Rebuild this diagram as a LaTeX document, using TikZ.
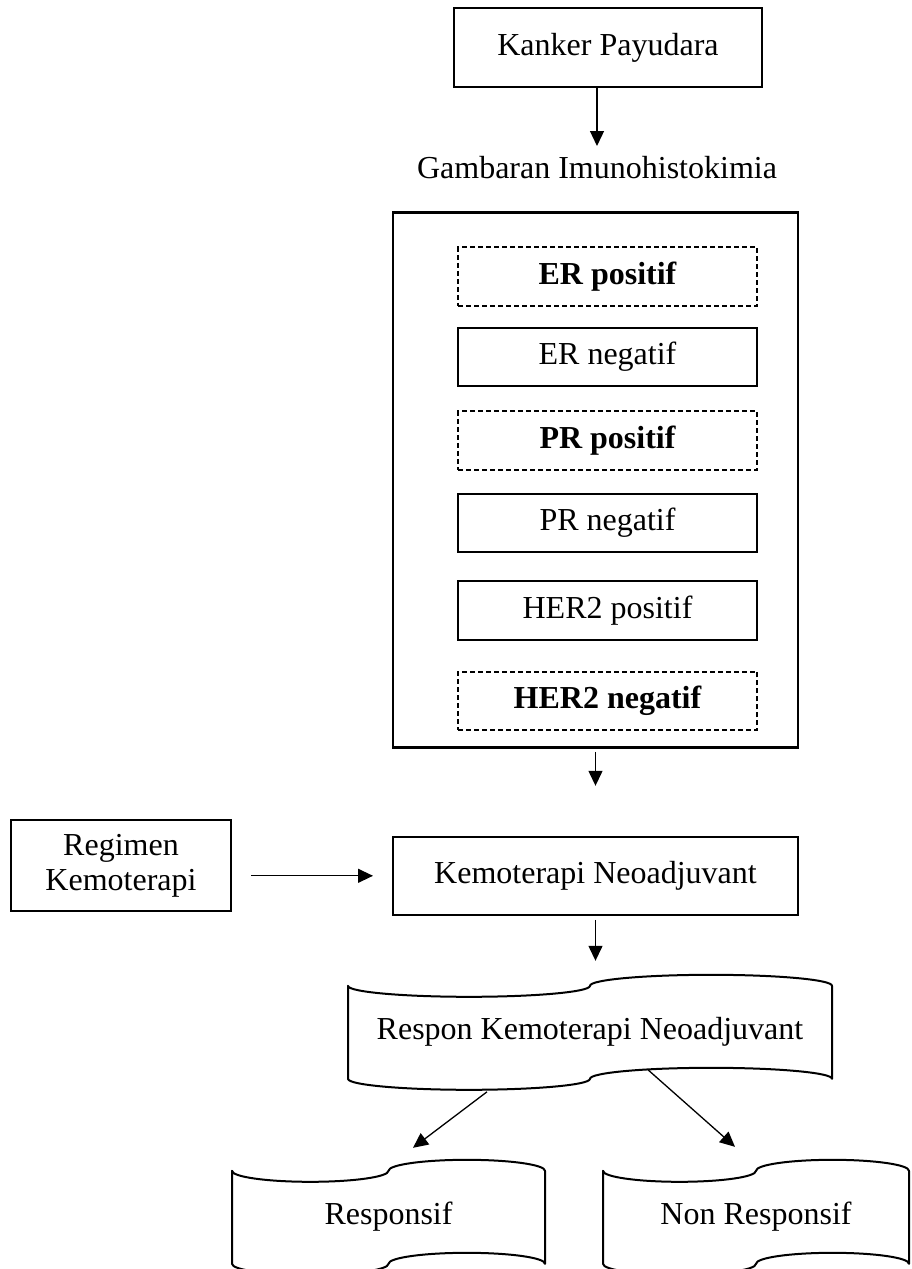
\documentclass[tikz,border=0pt]{standalone}
\usepackage{fontspec}
\setmainfont{Liberation Serif}
\usepackage{tikz}
\usetikzlibrary{arrows.meta, positioning}

\newcommand{\flowfont}{\fontsize{32}{31}\selectfont}

\tikzstyle{frame} = [rectangle, draw=black, line width=2pt, inner sep=0pt, text centered]
\tikzstyle{box} = [frame, text height=22pt, text depth=7pt]
\tikzstyle{marker} = [box, minimum width=299pt, minimum height=58.5pt]
\tikzstyle{marked} = [marker, dash pattern=on 5pt off 3pt, font=\flowfont\bfseries]
\tikzstyle{arrow} = [line width=1.3pt, -{Triangle[length=15pt, width=14pt]}]
\tikzset{tapebox/.style={rectangle, minimum width=#1, minimum height=93pt, inner sep=0pt, outer sep=0pt,
    text height=22pt, text depth=7pt,
    append after command={\pgfextra{\pgfinterruptpath
      \draw[line width=2pt, line join=round] (\tikzlastnode.north west)
        arc[start angle=180, end angle=360, x radius=#1/4, y radius=11pt]
        arc[start angle=180, end angle=0, x radius=#1/4, y radius=11pt]
        -- (\tikzlastnode.south east)
        arc[start angle=0, end angle=180, x radius=#1/4, y radius=11pt]
        arc[start angle=0, end angle=-180, x radius=#1/4, y radius=11pt]
        -- cycle;
      \endpgfinterruptpath}}}}

\begin{document}
\begin{tikzpicture}[x=1pt, y=-1pt, font=\flowfont]
\useasboundingbox (0,0) rectangle (911,1269);

% Top
\node (kanker) [box, minimum width=308pt, minimum height=79pt] at (608,47.5) {Kanker Payudara};

\node (gambaran) [inner sep=0pt, text height=22pt, text depth=7pt, below=68pt of kanker, xshift=-11pt] {Gambaran Imunohistokimia};

% Immunohistochemistry markers
\node (ihk-frame) [frame, line width=2.4pt, minimum width=405pt, minimum height=535pt, below=26pt of gambaran, xshift=-1.5pt] {};

\node (er-pos) [marked, below=35pt of ihk-frame.north, xshift=12pt] {ER positif};
\node (er-neg) [marker, below=20pt of er-pos] {ER negatif};
\node (pr-pos) [marked, below=23pt of er-neg] {PR positif};
\node (pr-neg) [marker, below=22pt of pr-pos] {PR negatif};
\node (her2-pos) [marker, below=27pt of pr-neg] {HER2 positif};
\node (her2-neg) [marked, below=30pt of her2-pos] {HER2 negatif};

% Therapy
\node (kemo) [box, minimum width=405pt, minimum height=78pt, below=87pt of ihk-frame] {Kemoterapi Neoadjuvant};

\node (regimen) [frame, align=center, font=\fontsize{32}{35}\selectfont, minimum width=220pt, minimum height=91pt, left=160pt of kemo, yshift=10pt] {Regimen\\Kemoterapi};

% Response
\node (respon) [tapebox=484pt, below=70pt of kemo, xshift=-5.5pt] {Respon Kemoterapi Neoadjuvant};

\node (responsif) [tapebox=313pt, below=92pt of respon, xshift=-201.5pt] {Responsif};

\node (non-responsif) [tapebox=306pt, below=92pt of respon, xshift=166pt] {Non Responsif};

% Arrows
\draw [arrow, shorten >=10pt] (kanker.south -| gambaran.north) -- (gambaran.north);
\draw [arrow, shorten <=3pt, shorten >=50pt] (ihk-frame.south) -- (kemo.north);
\draw [arrow, shorten <=19pt, shorten >=19pt] (regimen.east |- kemo.west) -- (kemo.west);
\draw [arrow, shorten <=4pt, shorten >=25pt] (kemo.south) -- (kemo.south |- respon.north);
\draw [arrow] ([xshift=-103pt, yshift=-13pt]respon.south) -- ([xshift=24.5pt, yshift=23pt]responsif.north);
\draw [arrow] ([xshift=58pt, yshift=9pt]respon.south) -- ([xshift=-21pt, yshift=24pt]non-responsif.north);

\end{tikzpicture}
\end{document}
